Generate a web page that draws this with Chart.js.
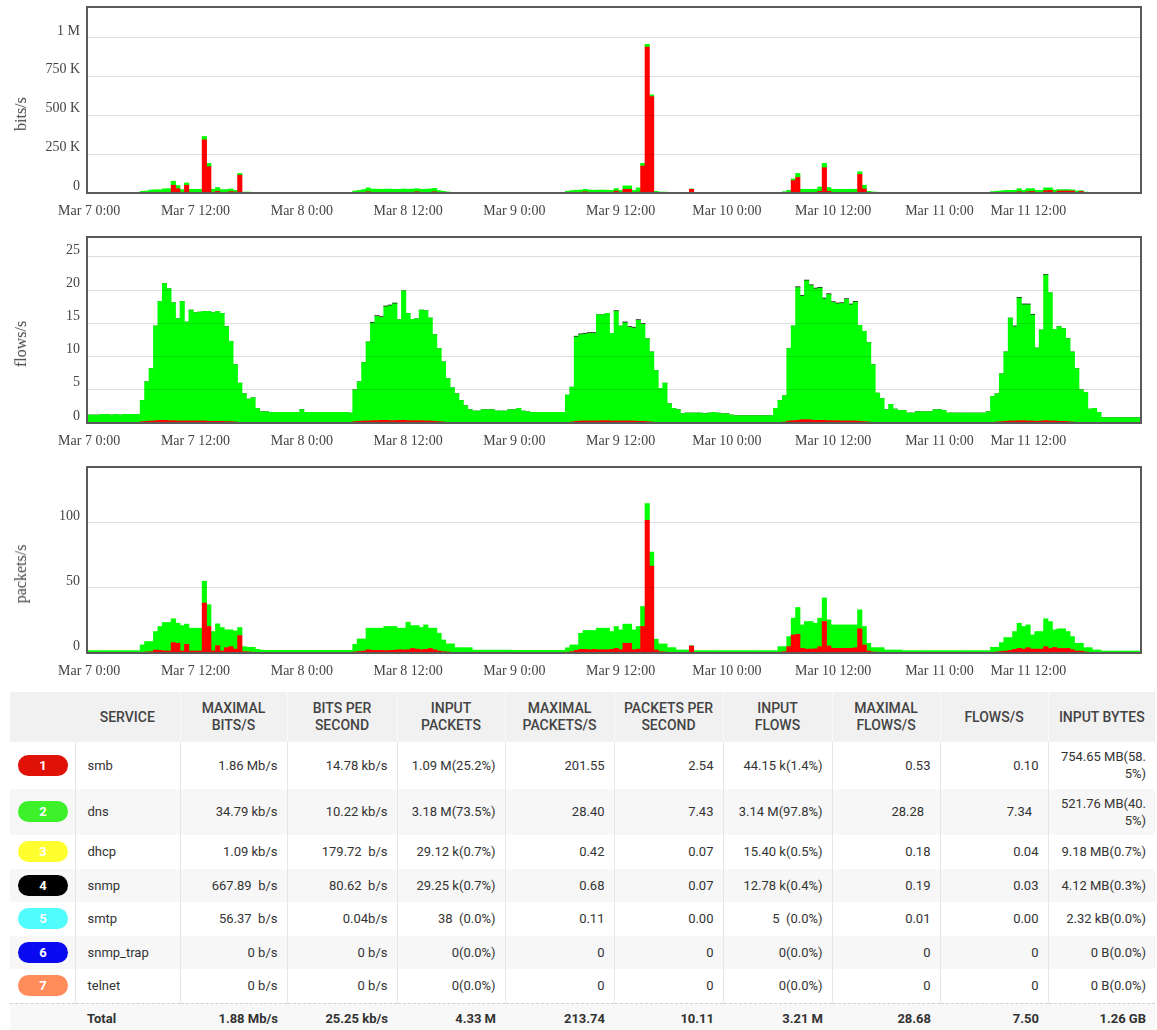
<!DOCTYPE html>
<html>
<head>
<meta charset="utf-8">
<title>Service traffic</title>
<script src="https://cdn.jsdelivr.net/npm/chart.js@4.4.1/dist/chart.umd.min.js"></script>
<style>
  body { margin: 0; background: #fff; width: 1157px; overflow: hidden; }
  .graph { position: relative; width: 1157px; height: 230px; }
  .graph canvas { position: absolute; left: 0; top: 0; }
  .ylabel {
    position: absolute; left: 21px; top: 114px;
    transform: translate(-50%, -50%) rotate(-90deg);
    font: 16px 'Liberation Serif', 'DejaVu Serif', serif; color: #444; white-space: nowrap;
  }
  table.stats {
    margin: 2px 0 0 10px; width: 1145px; border-collapse: collapse; table-layout: fixed;
    font: 13px Roboto, 'Noto Sans', sans-serif; color: #333;
  }
  .stats th {
    background: #f1f1f1; font-weight: 500; font-size: 14px; color: #444;
    line-height: 17px; padding: 8px 4px; text-align: center; border-left: 1px solid #fafafa;
  }
  .stats th:first-child, .stats th:nth-child(2) { border-left: none; }
  .stats td {
    padding: 6px 9px 6.5px 12px; line-height: 17px; text-align: right;
    border-left: 1px solid #e6e6e6; white-space: pre;
  }
  .stats td.badgecell { border-left: none; padding: 6px 0 6.5px 8px; text-align: left; }
  .stats td.name { text-align: left; }
  .stats tbody tr:nth-child(even) td { background: #f7f7f7; }
  .stats tbody tr.total td {
    font-weight: bold; border-left: none; border-top: 1px dashed #d0d0d0; background: #f8f8f8;
  }
  .badge {
    display: inline-block; width: 50px; height: 21px; line-height: 21px; border-radius: 11px;
    color: #fff; font-weight: bold; text-align: center; vertical-align: middle;
  }
</style>
</head>
<body>

<div class="graph"><canvas id="bitsChart" width="1157" height="230"></canvas><span class="ylabel">bits/s</span></div>
<div class="graph"><canvas id="flowsChart" width="1157" height="230"></canvas><span class="ylabel">flows/s</span></div>
<div class="graph"><canvas id="packetsChart" width="1157" height="230"></canvas><span class="ylabel">packets/s</span></div>

<table class="stats">
  <colgroup>
    <col style="width:65px"><col style="width:105px"><col style="width:107px"><col style="width:110px">
    <col style="width:108px"><col style="width:109px"><col style="width:109px"><col style="width:109px">
    <col style="width:108px"><col style="width:108px"><col style="width:107px">
  </colgroup>
  <thead>
    <tr>
      <th></th><th>SERVICE</th><th>MAXIMAL<br>BITS/S</th><th>BITS PER<br>SECOND</th><th>INPUT<br>PACKETS</th>
      <th>MAXIMAL<br>PACKETS/S</th><th>PACKETS PER<br>SECOND</th><th>INPUT<br>FLOWS</th><th>MAXIMAL<br>FLOWS/S</th>
      <th>FLOWS/S</th><th>INPUT BYTES</th>
    </tr>
  </thead>
  <tbody>
    <tr>
      <td class="badgecell"><span class="badge" style="background:#e01106">1</span></td><td class="name">smb</td>
      <td>1.86 Mb/s</td><td>14.78 kb/s</td><td>1.09 M(25.2%)</td><td>201.55</td><td>2.54</td>
      <td>44.15 k(1.4%)</td><td>0.53</td><td>0.10</td><td>754.65 MB(58.<br>5%)</td>
    </tr>
    <tr>
      <td class="badgecell"><span class="badge" style="background:#3cf02a">2</span></td><td class="name">dns</td>
      <td>34.79 kb/s</td><td>10.22 kb/s</td><td>3.18 M(73.5%)</td><td>28.40</td><td>7.43</td>
      <td>3.14 M(97.8%)</td><td>28.28&nbsp;&nbsp;</td><td>7.34&nbsp;&nbsp;</td><td>521.76 MB(40.<br>5%)</td>
    </tr>
    <tr>
      <td class="badgecell"><span class="badge" style="background:#ffff30">3</span></td><td class="name">dhcp</td>
      <td>1.09 kb/s</td><td>179.72  b/s</td><td>29.12 k(0.7%)</td><td>0.42</td><td>0.07</td>
      <td>15.40 k(0.5%)</td><td>0.18</td><td>0.04</td><td>9.18 MB(0.7%)</td>
    </tr>
    <tr>
      <td class="badgecell"><span class="badge" style="background:#000000">4</span></td><td class="name">snmp</td>
      <td>667.89  b/s</td><td>80.62  b/s</td><td>29.25 k(0.7%)</td><td>0.68</td><td>0.07</td>
      <td>12.78 k(0.4%)</td><td>0.19</td><td>0.03</td><td>4.12 MB(0.3%)</td>
    </tr>
    <tr>
      <td class="badgecell"><span class="badge" style="background:#50fcfc">5</span></td><td class="name">smtp</td>
      <td>56.37  b/s</td><td>0.04b/s</td><td>38  (0.0%)</td><td>0.11</td><td>0.00</td>
      <td>5  (0.0%)</td><td>0.01</td><td>0.00</td><td>2.32 kB(0.0%)</td>
    </tr>
    <tr>
      <td class="badgecell"><span class="badge" style="background:#0a0af0">6</span></td><td class="name">snmp_trap</td>
      <td>0 b/s</td><td>0 b/s</td><td>0(0.0%)</td><td>0</td><td>0</td>
      <td>0(0.0%)</td><td>0</td><td>0</td><td>0 B(0.0%)</td>
    </tr>
    <tr>
      <td class="badgecell"><span class="badge" style="background:#ff8c5a">7</span></td><td class="name">telnet</td>
      <td>0 b/s</td><td>0 b/s</td><td>0(0.0%)</td><td>0</td><td>0</td>
      <td>0(0.0%)</td><td>0</td><td>0</td><td>0 B(0.0%)</td>
    </tr>
    <tr class="total">
      <td></td><td class="name">Total</td>
      <td>1.88 Mb/s</td><td>25.25 kb/s</td><td>4.33 M</td><td>213.74</td><td>10.11</td>
      <td>3.21 M</td><td>28.68</td><td>7.50</td><td>1.26 GB</td>
    </tr>
  </tbody>
</table>

<script>
// half-hour samples starting Mar 7 0:00
const tickLabels = ['Mar 7 0:00', 'Mar 7 12:00', 'Mar 8 0:00', 'Mar 8 12:00', 'Mar 9 0:00',
  'Mar 9 12:00', 'Mar 10 0:00', 'Mar 10 12:00', 'Mar 11 0:00', 'Mar 11 12:00'];

const bitsTicks = [0, 250000, 500000, 750000, 1000000];
const flowsTicks = [0, 5, 10, 15, 20, 25];
const packetsTicks = [0, 50, 100];

// bits/s
const bitsSmb = [
  500, 500, 500, 500, 500, 500, 500, 500, 500, 500, 500, 500,
  1000, 1000, 1000, 1000, 1000, 3000, 4000, 50000, 28000, 5000, 50000, 3000,
  3000, 3000, 343000, 170000, 5000, 11000, 3000, 3000, 9000, 6000, 115000, 1000,
  1000, 500, 500, 500, 500, 500, 500, 500, 500, 500, 500, 500,
  500, 500, 500, 500, 500, 500, 500, 500, 500, 500, 500, 500,
  1000, 2000, 2000, 8000, 3000, 2000, 2000, 3000, 2000, 2000, 3000, 2000,
  2000, 3000, 8000, 2000, 2000, 3000, 8000, 2000, 1000, 500, 500, 500,
  500, 500, 500, 500, 500, 500, 500, 500, 500, 500, 500, 500,
  500, 500, 500, 500, 500, 500, 500, 500, 500, 500, 500, 500,
  1000, 2000, 3000, 2000, 8000, 3000, 2000, 2000, 2000, 2000, 3000, 13000,
  3000, 24000, 24000, 3000, 6000, 174000, 941000, 622000, 3000, 1000, 1000, 500,
  500, 500, 500, 500, 24000, 500, 500, 500, 500, 500, 500, 500,
  500, 500, 500, 500, 500, 500, 500, 500, 500, 500, 500, 500,
  500, 500, 2000, 80000, 100000, 3000, 3000, 3000, 3000, 11000, 163000, 11000,
  3000, 3000, 3000, 3000, 4000, 5000, 120000, 26000, 2000, 1000, 1000, 500,
  500, 500, 500, 500, 500, 500, 500, 500, 500, 500, 500, 500,
  500, 500, 500, 500, 500, 500, 500, 500, 500, 500, 500, 500,
  1000, 2000, 2000, 3000, 3000, 3000, 8000, 3000, 8000, 10000, 3000, 3000,
  15000, 17000, 5000, 13000, 13000, 13000, 13000, 3000, 10000, 2000, 1000, 500,
  500, 500, 500, 500, 500, 500, 500, 500, 500, 500
];
const bitsDns = [
  2500, 2500, 2500, 2500, 2500, 2500, 2500, 2500, 2500, 2500, 2500, 2500,
  10000, 12000, 18000, 20000, 20000, 24000, 24000, 26000, 20000, 17000, 15000, 21000,
  21000, 21000, 22000, 21000, 19000, 24000, 19000, 19000, 17000, 11000, 11000, 5000,
  5000, 4000, 3000, 2500, 2500, 2500, 2500, 2500, 2500, 2500, 2500, 2500,
  2500, 2500, 2500, 2500, 2500, 2500, 2500, 2500, 2500, 2500, 2500, 2500,
  12000, 15000, 20000, 25000, 22000, 23000, 22000, 22000, 23000, 22000, 21000, 24000,
  22000, 22000, 20000, 22000, 22000, 24000, 22000, 14000, 10000, 6000, 4000, 3000,
  2500, 2500, 2500, 2500, 2500, 2500, 2500, 2500, 2500, 2500, 2500, 2500,
  2500, 2500, 2500, 2500, 2500, 2500, 2500, 2500, 2500, 2500, 2500, 2500,
  10000, 14000, 15000, 17000, 16000, 16000, 16000, 17000, 17000, 16000, 14000, 15000,
  14000, 22000, 22000, 14000, 27000, 17000, 18000, 11000, 8000, 5000, 5000, 3000,
  3000, 2000, 2000, 2000, 2000, 2000, 2000, 2000, 2000, 2000, 2000, 2000,
  1500, 1500, 1500, 1500, 1500, 1500, 1500, 1500, 1500, 1500, 1500, 1500,
  4000, 8000, 15000, 11000, 26000, 21000, 21000, 21000, 21000, 28000, 28000, 24000,
  21000, 21000, 21000, 21000, 20000, 19000, 17000, 24000, 9000, 6000, 4000, 3000,
  2000, 2000, 2000, 2000, 2000, 2000, 2000, 2000, 2000, 2000, 2000, 2000,
  2000, 2000, 2000, 2000, 2000, 2000, 2000, 2000, 2000, 2000, 2000, 2000,
  8000, 10000, 12000, 14000, 14000, 15000, 20000, 14000, 20000, 18000, 14000, 14000,
  18000, 16000, 14000, 9000, 9000, 9000, 7000, 10000, 5000, 4000, 3000, 3000,
  2000, 2000, 2000, 2000, 2000, 2000, 2000, 2000, 2000, 2000
];

// flows/s
const flowsSmb = [
  0.05, 0.05, 0.05, 0.05, 0.05, 0.05, 0.05, 0.05, 0.05, 0.05, 0.05, 0.05,
  0.2, 0.25, 0.3, 0.35, 0.4, 0.4, 0.35, 0.35, 0.3, 0.3, 0.3, 0.3,
  0.3, 0.3, 0.3, 0.25, 0.25, 0.25, 0.25, 0.2, 0.2, 0.15, 0.1, 0.1,
  0.05, 0.05, 0.05, 0.05, 0.05, 0.05, 0.05, 0.05, 0.05, 0.05, 0.05, 0.05,
  0.05, 0.05, 0.05, 0.05, 0.05, 0.05, 0.05, 0.05, 0.05, 0.05, 0.05, 0.05,
  0.2, 0.25, 0.3, 0.3, 0.35, 0.35, 0.4, 0.4, 0.35, 0.35, 0.4, 0.4,
  0.35, 0.35, 0.35, 0.35, 0.3, 0.3, 0.25, 0.2, 0.15, 0.1, 0.1, 0.05,
  0.05, 0.05, 0.05, 0.05, 0.05, 0.05, 0.05, 0.05, 0.05, 0.05, 0.05, 0.05,
  0.05, 0.05, 0.05, 0.05, 0.05, 0.05, 0.05, 0.05, 0.05, 0.05, 0.05, 0.05,
  0.1, 0.15, 0.25, 0.3, 0.3, 0.3, 0.3, 0.3, 0.35, 0.35, 0.3, 0.3,
  0.3, 0.3, 0.3, 0.3, 0.25, 0.25, 0.2, 0.15, 0.1, 0.1, 0.05, 0.05,
  0.05, 0.05, 0.05, 0.05, 0.05, 0.05, 0.05, 0.05, 0.05, 0.05, 0.05, 0.05,
  0.05, 0.05, 0.05, 0.05, 0.05, 0.05, 0.05, 0.05, 0.05, 0.05, 0.05, 0.1,
  0.1, 0.15, 0.3, 0.35, 0.4, 0.5, 0.5, 0.45, 0.4, 0.4, 0.4, 0.35,
  0.35, 0.35, 0.3, 0.3, 0.3, 0.3, 0.25, 0.2, 0.15, 0.1, 0.05, 0.05,
  0.05, 0.05, 0.05, 0.05, 0.05, 0.05, 0.05, 0.05, 0.05, 0.05, 0.05, 0.05,
  0.05, 0.05, 0.05, 0.05, 0.05, 0.05, 0.05, 0.05, 0.05, 0.05, 0.05, 0.05,
  0.1, 0.15, 0.2, 0.25, 0.3, 0.3, 0.35, 0.35, 0.3, 0.3, 0.25, 0.3,
  0.35, 0.3, 0.3, 0.25, 0.25, 0.2, 0.15, 0.1, 0.1, 0.05, 0.05, 0.05,
  0.05, 0.05, 0.05, 0.05, 0.05, 0.05, 0.05, 0.05, 0.05, 0.05
];
const flowsDns = [
  1.15, 1.15, 1.15, 1.25, 1.25, 1.15, 1.25, 1.15, 1.25, 1.25, 1.25, 1.25,
  3.2, 5.95, 7.9, 14.25, 17.9, 20.6, 19.85, 17.75, 15.4, 18.0, 14.9, 16.7,
  16.3, 16.4, 16.5, 16.55, 16.35, 16.55, 16.25, 14.3, 12.1, 8.65, 5.9, 4.3,
  3.55, 3.75, 2.15, 1.65, 1.65, 1.55, 1.55, 1.55, 1.55, 1.55, 1.55, 1.55,
  1.95, 1.55, 1.55, 1.55, 1.55, 1.55, 1.55, 1.55, 1.55, 1.55, 1.55, 1.45,
  4.8, 5.95, 8.8, 11.9, 14.7, 15.7, 15.5, 17.1, 17.3, 17.6, 15.15, 19.5,
  16.15, 15.25, 15.35, 16.65, 16.6, 15.5, 13.05, 11.0, 9.05, 6.6, 5.2, 4.35,
  3.35, 2.55, 1.95, 1.75, 1.75, 1.95, 1.95, 1.95, 1.75, 1.75, 1.75, 1.95,
  1.95, 2.15, 1.75, 1.65, 1.55, 1.55, 1.55, 1.55, 1.55, 1.55, 1.55, 1.55,
  4.1, 5.25, 12.7, 13.0, 13.1, 13.2, 13.2, 16.0, 15.95, 16.15, 13.2, 16.5,
  14.3, 14.8, 14.1, 14.0, 15.2, 14.6, 12.5, 10.55, 7.8, 5.1, 5.95, 2.85,
  2.15, 1.95, 1.35, 1.45, 1.45, 1.45, 1.45, 1.35, 1.45, 1.55, 1.45, 1.35,
  1.35, 1.15, 1.05, 1.05, 1.05, 1.05, 1.05, 1.05, 1.05, 1.05, 1.05, 2.1,
  3.3, 3.95, 10.9, 14.25, 20.0, 18.6, 20.9, 20.25, 19.8, 19.9, 18.3, 19.0,
  17.8, 17.6, 17.7, 18.3, 17.5, 17.9, 14.45, 13.6, 11.95, 8.7, 4.45, 3.65,
  1.95, 2.75, 2.05, 1.85, 1.85, 1.45, 1.45, 1.65, 1.65, 1.65, 1.65, 1.95,
  1.95, 1.85, 1.45, 1.45, 1.45, 1.45, 1.45, 1.45, 1.45, 1.45, 1.45, 1.65,
  3.9, 4.25, 7.2, 10.45, 15.5, 14.2, 18.45, 17.45, 17.5, 15.95, 11.05, 13.7,
  21.9, 19.3, 13.8, 14.25, 13.95, 12.5, 10.55, 8.1, 4.9, 4.55, 2.05, 2.15,
  1.55, 0.75, 0.75, 0.75, 0.75, 0.75, 0.75, 0.75, 0.75, 0.75
];
const flowsSnmp = [
  0, 0, 0, 0, 0, 0, 0, 0, 0, 0, 0, 0,
  0, 0, 0, 0, 0, 0, 0, 0, 0, 0, 0, 0,
  0, 0, 0, 0, 0, 0, 0, 0, 0, 0, 0, 0,
  0, 0, 0, 0, 0, 0, 0, 0, 0, 0, 0, 0,
  0, 0, 0, 0, 0, 0, 0, 0, 0, 0, 0, 0,
  0, 0, 0, 0, 0.12, 0.12, 0.12, 0.12, 0.12, 0.12, 0, 0,
  0, 0, 0, 0, 0, 0, 0, 0, 0, 0, 0, 0,
  0, 0, 0, 0, 0, 0, 0, 0, 0, 0, 0, 0,
  0, 0, 0, 0, 0, 0, 0, 0, 0, 0, 0, 0,
  0, 0, 0.12, 0.12, 0.12, 0.12, 0.12, 0, 0, 0, 0, 0.12,
  0, 0.12, 0.12, 0.12, 0.12, 0.12, 0, 0, 0, 0, 0, 0,
  0, 0, 0, 0, 0, 0, 0, 0, 0, 0, 0, 0,
  0, 0, 0, 0, 0, 0, 0, 0, 0, 0, 0, 0,
  0, 0, 0, 0, 0.12, 0.12, 0.12, 0.12, 0.12, 0.12, 0.12, 0.12,
  0.12, 0.12, 0.12, 0.12, 0.12, 0.12, 0, 0, 0, 0, 0, 0,
  0, 0, 0, 0, 0, 0, 0, 0, 0, 0, 0, 0,
  0, 0, 0, 0, 0, 0, 0, 0, 0, 0, 0, 0,
  0, 0, 0, 0, 0, 0.12, 0.12, 0.12, 0.12, 0.12, 0, 0,
  0.12, 0, 0, 0, 0, 0, 0, 0, 0, 0, 0, 0,
  0, 0, 0, 0, 0, 0, 0, 0, 0, 0
];

// packets/s
const packetsSmb = [
  0.3, 0.3, 0.3, 0.3, 0.3, 0.3, 0.3, 0.3, 0.3, 0.3, 0.3, 0.3,
  0.5, 0.8, 1.0, 2.3, 2.0, 1.6, 1.6, 8.0, 7.5, 1.5, 6.7, 1.5,
  1.5, 1.5, 38.4, 20.4, 1.6, 5.7, 1.5, 4.1, 4.9, 3.0, 13.4, 1.0,
  0.8, 0.6, 0.3, 0.3, 0.3, 0.3, 0.3, 0.3, 0.3, 0.3, 0.3, 0.3,
  0.3, 0.3, 0.3, 0.3, 0.3, 0.3, 0.3, 0.3, 0.3, 0.3, 0.3, 0.3,
  0.8, 1.2, 1.5, 2.5, 2.0, 2.0, 2.0, 1.8, 2.0, 2.2, 2.5, 2.3,
  2.5, 3.5, 3.0, 2.5, 2.8, 3.5, 2.5, 1.5, 1.0, 0.8, 0.5, 0.3,
  0.3, 0.3, 0.3, 0.3, 0.3, 0.3, 0.3, 0.3, 0.3, 0.3, 0.3, 0.3,
  0.3, 0.3, 0.3, 0.3, 0.3, 0.3, 0.3, 0.3, 0.3, 0.3, 0.3, 0.3,
  0.6, 1.0, 2.0, 2.8, 2.8, 2.5, 2.8, 2.5, 2.5, 2.5, 2.8, 3.6,
  2.5, 7.5, 7.5, 2.5, 3.0, 20.4, 102, 66.8, 2.3, 1.0, 0.8, 0.4,
  0.4, 0.4, 0.4, 0.4, 5.4, 0.3, 0.3, 0.3, 0.3, 0.3, 0.3, 0.3,
  0.3, 0.3, 0.3, 0.3, 0.3, 0.3, 0.3, 0.3, 0.3, 0.3, 0.3, 0.3,
  0.6, 1.0, 4.9, 13.9, 14.4, 3.6, 3.0, 3.0, 3.2, 4.9, 24.2, 5.4,
  3.6, 3.6, 3.6, 3.6, 3.6, 4.0, 18.6, 6.2, 1.5, 0.8, 0.6, 0.3,
  0.3, 0.3, 0.3, 0.3, 0.3, 0.3, 0.3, 0.3, 0.3, 0.3, 0.3, 0.3,
  0.3, 0.3, 0.3, 0.3, 0.3, 0.3, 0.3, 0.3, 0.3, 0.3, 0.3, 0.3,
  0.5, 0.8, 1.2, 1.5, 2.0, 2.8, 3.6, 3.0, 4.1, 3.0, 3.0, 3.0,
  4.9, 3.5, 4.3, 3.5, 3.5, 3.6, 2.5, 1.5, 1.5, 0.8, 0.5, 0.4,
  0.3, 0.3, 0.3, 0.3, 0.3, 0.3, 0.3, 0.3, 0.3, 0.3
];
const packetsDns = [
  1.5, 1.5, 1.5, 1.5, 1.5, 1.5, 1.5, 1.5, 1.5, 1.5, 1.5, 1.5,
  5.7, 8.0, 7.8, 14.2, 18.4, 21.9, 21.9, 18.3, 15.4, 19.6, 15.5, 17.6,
  17.6, 17.6, 16.8, 16.7, 14.9, 16.7, 18.1, 13.7, 12.9, 14.0, 6.2, 3.9,
  3.6, 3.8, 2.5, 1.9, 1.7, 1.7, 1.7, 1.7, 1.7, 1.7, 1.7, 1.7,
  1.7, 1.7, 1.7, 1.7, 1.7, 1.7, 1.7, 1.7, 1.7, 1.7, 1.7, 1.7,
  5.9, 9.6, 9.3, 16.6, 17.1, 17.1, 17.1, 18.6, 18.4, 18.2, 16.6, 16.8,
  21.2, 17.6, 18.1, 17.1, 18.8, 15.6, 16.6, 13.7, 9.0, 6.2, 6.5, 3.8,
  3.8, 3.8, 3.8, 1.9, 1.9, 1.9, 1.9, 1.9, 1.9, 1.9, 1.9, 1.9,
  1.7, 1.7, 1.7, 1.7, 1.7, 1.7, 1.7, 1.7, 1.7, 1.7, 1.7, 1.7,
  3.4, 5.2, 4.2, 12.4, 14.5, 14.8, 14.5, 16.6, 16.6, 16.6, 13.7, 16.8,
  15.3, 14.7, 14.7, 15.3, 17.4, 15.4, 12.9, 10.8, 8.3, 6.0, 6.2, 3.7,
  3.7, 1.9, 1.9, 1.9, 0.2, 1.5, 1.5, 1.5, 1.5, 1.5, 1.5, 1.5,
  1.5, 1.5, 1.5, 1.5, 1.5, 1.5, 1.5, 1.5, 1.5, 1.5, 1.5, 1.5,
  4.3, 3.9, 7.7, 12.9, 20.6, 18.0, 21.2, 21.2, 19.7, 21.9, 18.1, 20.1,
  18.0, 18.0, 18.0, 18.0, 18.0, 17.6, 14.6, 14.2, 6.0, 3.3, 3.5, 3.8,
  2.0, 2.0, 2.0, 2.0, 1.5, 1.5, 1.5, 1.5, 1.5, 1.5, 1.5, 1.5,
  1.5, 1.5, 1.5, 1.5, 1.5, 1.5, 1.5, 1.5, 1.5, 1.5, 1.5, 1.5,
  3.9, 3.6, 6.8, 10.4, 9.9, 13.7, 19.3, 17.4, 17.5, 10.9, 13.5, 13.5,
  21.4, 20.7, 13.5, 15.1, 15.1, 12.9, 10.1, 6.0, 6.0, 3.3, 3.6, 1.9,
  2.0, 1.2, 1.2, 1.2, 1.2, 1.2, 1.2, 1.2, 1.2, 1.2
];

// slot names for the category axis (30 min each)
const slotLabels = [];
for (let i = 0; i < bitsSmb.length; i++) {
  const day = 7 + Math.floor(i / 48);
  const mins = (i % 48) * 30;
  slotLabels.push('Mar ' + day + ' ' + Math.floor(mins / 60) + ':' + String(mins % 60).padStart(2, '0'));
}

const serif = "'Liberation Serif', 'DejaVu Serif', serif";
const gridColor = 'rgba(0, 0, 0, 0.13)';

const frame = {
  id: 'frame',
  afterDraw(chart) {
    const a = chart.chartArea;
    const c = chart.ctx;
    c.save();
    c.strokeStyle = '#5a5a5a';
    c.lineWidth = 2;
    c.strokeRect(a.left, a.top, a.right - a.left, a.bottom - a.top);
    c.restore();
  }
};

// the last date label sits a bit left of its grid line in the original
function xLabel(i) {
  if (i % 24 !== 0) return null;
  const k = i / 24;
  return k === tickLabels.length - 1 ? tickLabels[k] + ' '.repeat(10) : tickLabels[k];
}

function drawGraph(id, datasets, yMax, yTicks, fmt) {
  return new Chart(document.getElementById(id), {
    type: 'bar',
    data: { labels: slotLabels, datasets: datasets },
    options: {
      responsive: false,
      animation: false,
      layout: { padding: { top: 7, right: 16, left: 0, bottom: 0 } },
      plugins: { legend: { display: false } },
      datasets: { bar: { barPercentage: 1, categoryPercentage: 1, borderWidth: 0 } },
      scales: {
        x: {
          stacked: true,
          border: { display: false },
          grid: {
            z: 1,
            drawTicks: false,
            color: ctx => (ctx.index % 24 === 0 ? gridColor : 'rgba(0, 0, 0, 0)')
          },
          ticks: {
            autoSkip: false,
            maxRotation: 0,
            padding: 10,
            color: '#444',
            font: { family: serif, size: 14 },
            callback: (v, i) => xLabel(i)
          },
          afterFit: s => { s.height = 37; s.paddingLeft = 0; s.paddingRight = 0; }
        },
        y: {
          stacked: true,
          min: 0,
          max: yMax,
          border: { display: false },
          grid: { z: 1, drawTicks: false, color: gridColor },
          afterBuildTicks: s => { s.ticks = yTicks.map(v => ({ value: v })); },
          ticks: {
            autoSkip: false,
            padding: 7,
            labelOffset: -7,
            color: '#444',
            font: { family: serif, size: 14 },
            callback: v => fmt(v)
          },
          afterFit: s => { s.width = 87; s.paddingTop = 0; s.paddingBottom = 0; }
        }
      }
    },
    plugins: [frame]
  });
}

function fmtBits(v) {
  if (v === 0) return '0';
  if (v >= 1000000) return (v / 1000000) + ' M';
  return (v / 1000) + ' K';
}

drawGraph('bitsChart', [
  { label: 'smb', data: bitsSmb, backgroundColor: '#ff0000' },
  { label: 'dns', data: bitsDns, backgroundColor: '#00ff00' }
], 1200000, bitsTicks, fmtBits);

drawGraph('flowsChart', [
  { label: 'smb', data: flowsSmb, backgroundColor: '#ff0000' },
  { label: 'dns', data: flowsDns, backgroundColor: '#00ff00' },
  { label: 'snmp', data: flowsSnmp, backgroundColor: '#222222' }
], 28, flowsTicks, v => String(v));

drawGraph('packetsChart', [
  { label: 'smb', data: packetsSmb, backgroundColor: '#ff0000' },
  { label: 'dns', data: packetsDns, backgroundColor: '#00ff00' }
], 143, packetsTicks, v => String(v));
</script>
</body>
</html>
